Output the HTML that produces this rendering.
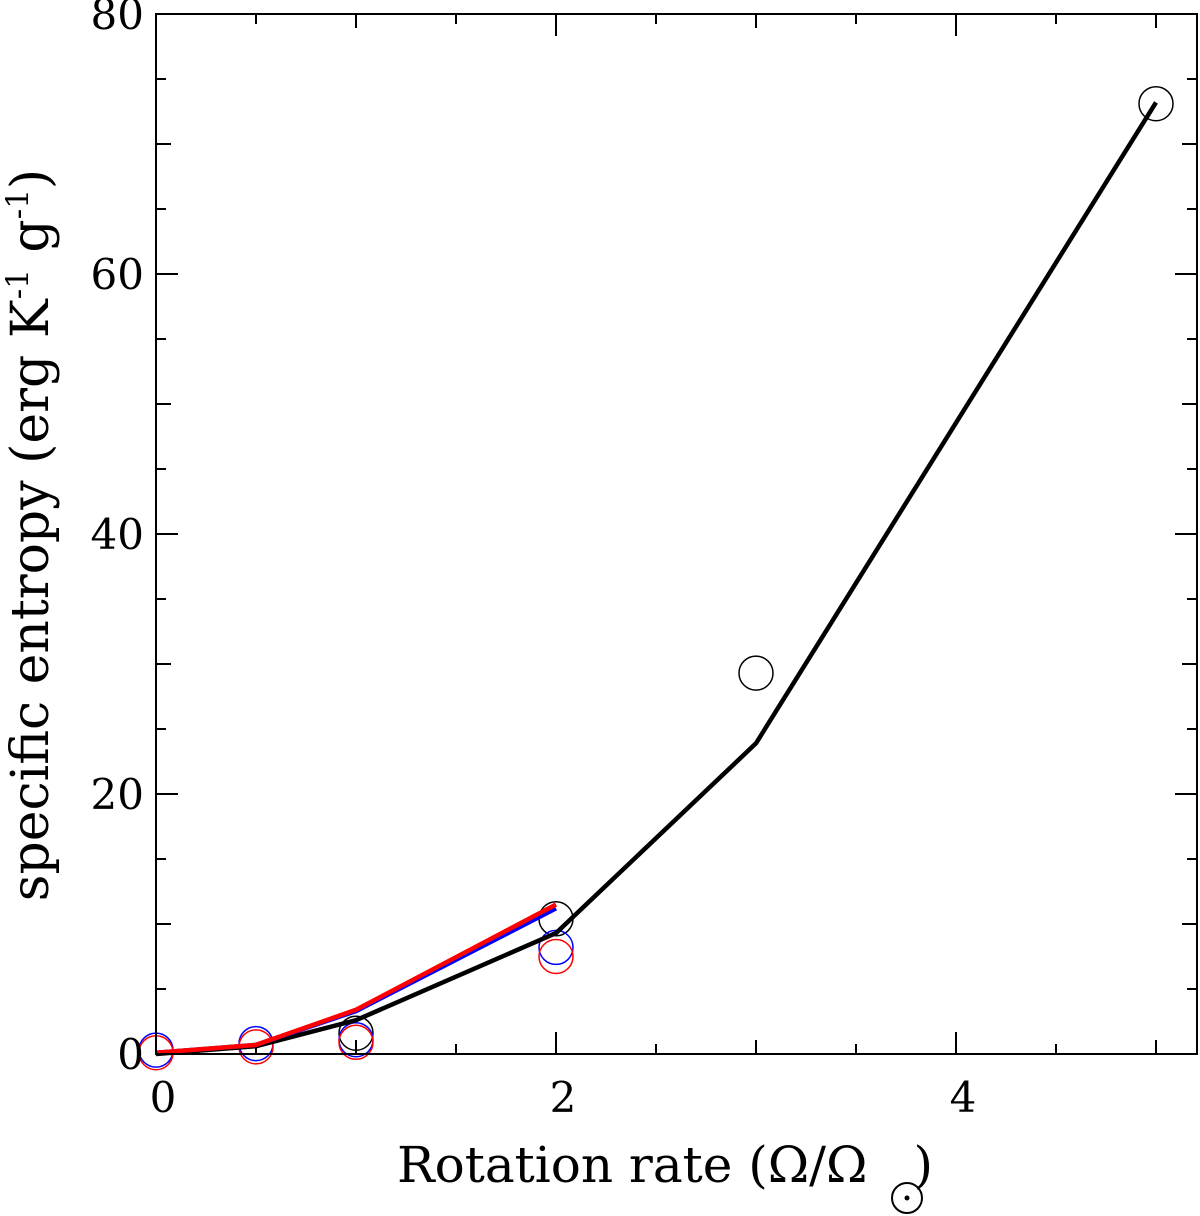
<!DOCTYPE html>
<html><head><meta charset="utf-8"><style>
html,body{margin:0;padding:0;background:#fff;}
svg{display:block;font-family:"DejaVu Serif","Liberation Serif",serif;}
</style></head><body>
<svg id="chart" width="1200" height="1216" viewBox="0 0 1200 1216" xmlns="http://www.w3.org/2000/svg">
<g id="ticks"></g>
<g id="series"></g>
<rect x="156" y="14" width="1041" height="1040" fill="none" stroke="#000" stroke-width="2"/>
<g id="labels" font-size="42" fill="#000"></g>
<text x="397" y="1182" font-size="50">Rotation rate (Ω/Ω<tspan dx="46">)</tspan></text>
<g><circle cx="907" cy="1198" r="15" fill="none" stroke="#000" stroke-width="2"/><circle cx="907" cy="1198" r="2.5" fill="#000"/></g>
<text transform="translate(48,535) rotate(-90)" text-anchor="middle" font-size="52">specific entropy (erg K<tspan dy="-20" font-size="31">-1</tspan><tspan dy="20"> g</tspan><tspan dy="-20" font-size="31">-1</tspan><tspan dy="20">)</tspan></text>
</svg>
<script>
const xTicks = [0, 2, 4];
const yTicks = [0, 20, 40, 60, 80];
const blackX = [0, 0.5, 1, 2, 3, 5];
const blackY = [0, 0.6, 2.6, 9.3, 23.9, 73.2];
const blueX = [0, 0.5, 1, 2];
const blueY = [0.1, 0.7, 3.3, 11.2];
const redX = [0, 0.5, 1, 2];
const redY = [0.1, 0.7, 3.4, 11.5];
const blackPtX = [1, 2, 3, 5];
const blackPtY = [1.6, 10.4, 29.3, 73.1];
const bluePtX = [0, 0.5, 1, 2];
const bluePtY = [0.3, 0.8, 1.1, 8.2];
const redPtX = [0, 0.5, 1, 2];
const redPtY = [0.1, 0.55, 0.9, 7.5];

const NS = "http://www.w3.org/2000/svg";
const X = v => 156 + v * 200;
const Y = v => 1054 - v * 13;
function mk(tag, attrs, parent) {
  const e = document.createElementNS(NS, tag);
  for (const k in attrs) e.setAttribute(k, attrs[k]);
  parent.appendChild(e); return e;
}
const tg = document.getElementById('ticks');
for (let i = 0; i <= 10; i++) {
  const v = i * 0.5;
  const len = (i % 4 === 0) ? 22 : (i % 2 === 0 ? 14 : 10);
  const x = X(v);
  const l1 = mk('line', {x1: x, x2: x, y1: 1054, y2: 1054 - len, stroke: '#000', 'stroke-width': 2}, tg);
  
  
  const l2 = mk('line', {x1: x, x2: x, y1: 14, y2: 14 + len, stroke: '#000', 'stroke-width': 2}, tg);
  
  
}
for (let i = 0; i <= 16; i++) {
  const v = i * 5;
  const len = (i % 4 === 0) ? 22 : (i % 2 === 0 ? 15 : 10);
  const y = Y(v);
  const l1 = mk('line', {x1: 156, x2: 156 + len, y1: y, y2: y, stroke: '#000', 'stroke-width': 2}, tg);
  
  
  const l2 = mk('line', {x1: 1197, x2: 1197 - len, y1: y, y2: y, stroke: '#000', 'stroke-width': 2}, tg);
  
  
}
const lg = document.getElementById('labels');
xTicks.forEach(v => {
  const t = mk('text', {x: X(v) + 7, y: 1112, 'text-anchor': 'middle'}, lg);
  
  
  t.textContent = v;
});
yTicks.forEach(v => {
  const t = mk('text', {x: 144, y: Y(v) + 15, 'text-anchor': 'end'}, lg);
  
  
  t.textContent = v;
});
const sg = document.getElementById('series');
function line(xs, ys, color, w, name) {
  const p = mk('polyline', {points: xs.map((x, i) => X(x) + ',' + Y(ys[i])).join(' '), fill: 'none', stroke: color, 'stroke-width': w, 'stroke-linejoin': 'round'}, sg);
  
  
}
function pts(xs, ys, color, name) {
  xs.forEach((x, i) => {
    const c = mk('circle', {cx: X(x), cy: Y(ys[i]), r: 17, fill: 'none', stroke: color, 'stroke-width': 1.5}, sg);
    
    
  });
}
pts(blackPtX, blackPtY, '#000', 'black-point');
pts(bluePtX, bluePtY, '#0000ff', 'blue-point');
pts(redPtX, redPtY, '#ff0000', 'red-point');
line(blackX, blackY, '#000', 4.5, 'black-line');
line(blueX, blueY, '#0000ff', 4.5, 'blue-line');
line(redX, redY, '#ff0000', 4.5, 'red-line');
</script>
</body></html>
